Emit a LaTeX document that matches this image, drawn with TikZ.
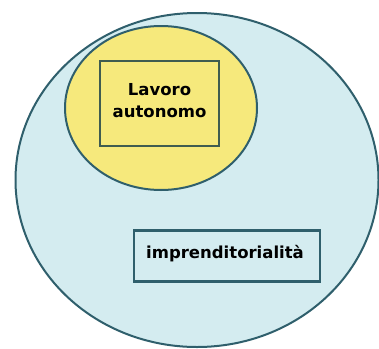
\documentclass[tikz,border=0pt]{standalone}
\usepackage{fontspec}
\setmainfont{DejaVu Sans}
\usetikzlibrary{shapes.geometric}
\definecolor{bigfill}{HTML}{D4ECF0}
\definecolor{edgeteal}{HTML}{2F5F6C}
\definecolor{yelfill}{HTML}{F6E97C}
\definecolor{rectedge}{HTML}{3F5C50}
\tikzset{
  oval/.style={ellipse, draw=edgeteal, line width=2pt, inner sep=0pt},
  labelbox/.style={draw, line width=2.2pt, inner sep=0pt},
  labeltext/.style={inner sep=0pt, font=\bfseries\fontsize{16.5}{22}\selectfont, align=center}
}
\begin{document}
\begin{tikzpicture}[x=1pt,y=-1pt]
\useasboundingbox[fill=white] (0,0) rectangle (379,348);
\node[oval, fill=bigfill, minimum width=363pt, minimum height=334pt] (big) at (197,180) {};
\node[oval, fill=yelfill, minimum width=192pt, minimum height=164pt] (yel) at (161,108) {};
\node[labelbox, draw=rectedge, fill=yelfill, minimum width=119pt, minimum height=85pt] (lav) at (159.5,103.5) {};
\node[labeltext] (lavtxt) at (159.5,101) {Lavoro\\autonomo};
\node[labelbox, draw=edgeteal, fill=bigfill, minimum width=186pt, minimum height=51pt] (imp) at (227,256) {};
\node[labeltext] (imptxt) at (225,254) {imprenditorialità};
\end{tikzpicture}
\end{document}
